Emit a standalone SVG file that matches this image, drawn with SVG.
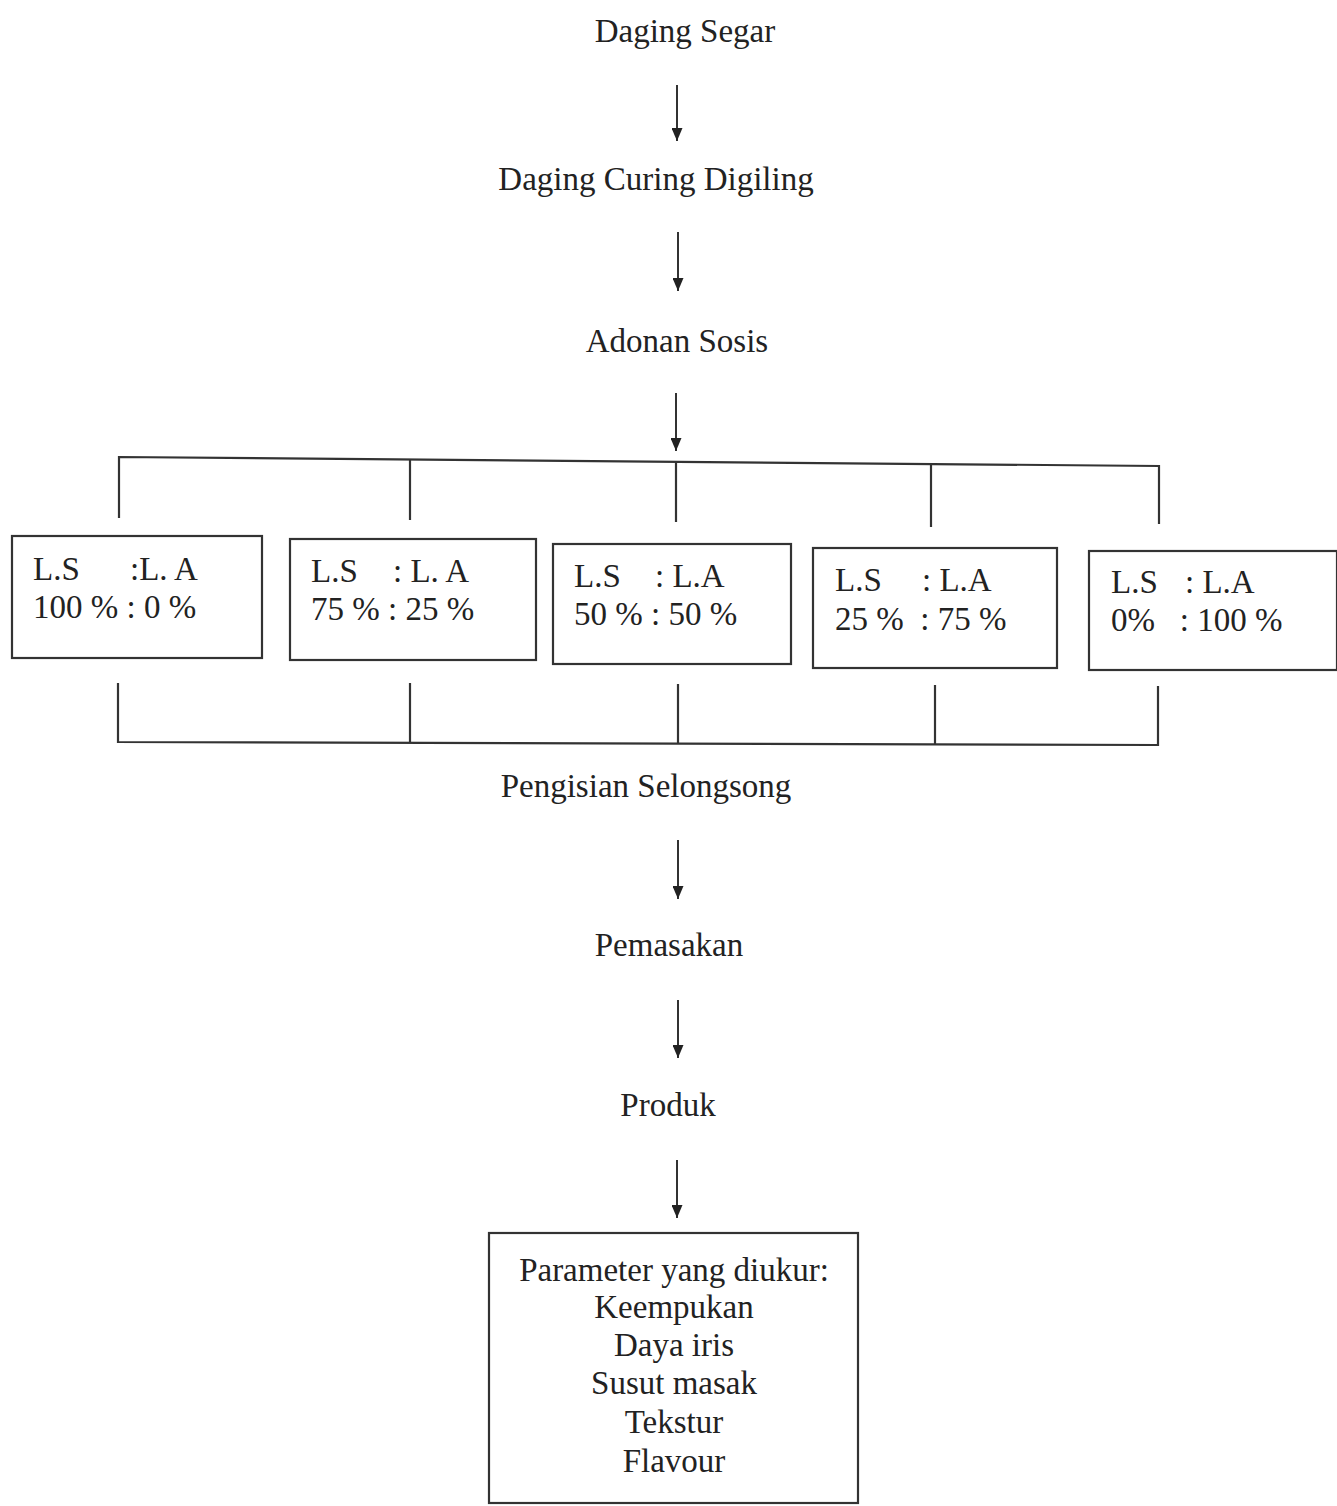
<svg xmlns="http://www.w3.org/2000/svg" width="1337" height="1506" viewBox="0 0 1337 1506">
<style>
text{font-family:"Liberation Serif","Times New Roman",serif;font-size:33px;fill:#222}
.c{text-anchor:middle}
.b{fill:#fff;stroke:#333;stroke-width:2.2}
.l{stroke:#333;stroke-width:2.2;fill:none}
.a{stroke:#333;stroke-width:2;fill:none;marker-end:url(#ah)}
</style>
<defs>
<marker id="ah" viewBox="0 0 13 11" refX="13" refY="5.5" markerWidth="13" markerHeight="11" markerUnits="userSpaceOnUse" orient="auto">
<path d="M0,0 L13,5.5 L0,11 Z" fill="#222"/>
</marker>
</defs>
<rect width="1337" height="1506" fill="#fff"/>
<g id="connectors">
<line class="a" x1="677" y1="85" x2="677" y2="141"/>
<line class="a" x1="678" y1="232" x2="678" y2="291"/>
<line class="a" x1="676" y1="393" x2="676" y2="451"/>
<polyline class="l" points="119,518 119,457 1159,466 1159,524"/>
<line class="l" x1="410" y1="460" x2="410" y2="520"/>
<line class="l" x1="676" y1="462" x2="676" y2="522"/>
<line class="l" x1="931" y1="465" x2="931" y2="527"/>
<polyline class="l" points="118,683 118,742 1158,745 1158,686"/>
<line class="l" x1="410" y1="683" x2="410" y2="742"/>
<line class="l" x1="678" y1="684" x2="678" y2="743"/>
<line class="l" x1="935" y1="685" x2="935" y2="744"/>
<line class="a" x1="678" y1="840" x2="678" y2="899"/>
<line class="a" x1="678" y1="1000" x2="678" y2="1058"/>
<line class="a" x1="677" y1="1160" x2="677" y2="1218"/>
</g>
<g id="n1"><text class="c" x="685" y="42">Daging Segar</text></g>
<g id="n2"><text class="c" x="656" y="190">Daging Curing Digiling</text></g>
<g id="n3"><text class="c" x="677" y="352">Adonan Sosis</text></g>
<g id="b1"><rect class="b" x="12" y="536" width="250" height="122"/>
<text x="33" y="580">L.S</text><text x="130" y="580">:L. A</text><text x="33" y="618">100 % : 0 %</text></g>
<g id="b2"><rect class="b" x="290" y="539" width="246" height="121"/>
<text x="311" y="582">L.S</text><text x="393" y="582">: L. A</text><text x="311" y="620">75 % : 25 %</text></g>
<g id="b3"><rect class="b" x="553" y="544" width="238" height="120"/>
<text x="574" y="587">L.S</text><text x="655" y="587">: L.A</text><text x="574" y="625">50 % : 50 %</text></g>
<g id="b4"><rect class="b" x="813" y="548" width="244" height="120"/>
<text x="835" y="591">L.S</text><text x="922" y="591">: L.A</text><text x="835" y="630">25 % &#160;: 75 %</text></g>
<g id="b5"><rect class="b" x="1089" y="551" width="248" height="119"/>
<text x="1111" y="593">L.S</text><text x="1185" y="593">: L.A</text><text x="1111" y="631">0% &#160;&#160;: 100 %</text></g>
<g id="n4"><text class="c" x="646" y="797">Pengisian Selongsong</text></g>
<g id="n5"><text class="c" x="669" y="956">Pemasakan</text></g>
<g id="n6"><text class="c" x="668" y="1116">Produk</text></g>
<g id="n7"><rect class="b" x="489" y="1233" width="369" height="270"/>
<text class="c" x="674" y="1281">Parameter yang diukur:</text>
<text class="c" x="674" y="1318">Keempukan</text>
<text class="c" x="674" y="1356">Daya iris</text>
<text class="c" x="674" y="1394">Susut masak</text>
<text class="c" x="674" y="1433">Tekstur</text>
<text class="c" x="674" y="1472">Flavour</text></g>
</svg>
